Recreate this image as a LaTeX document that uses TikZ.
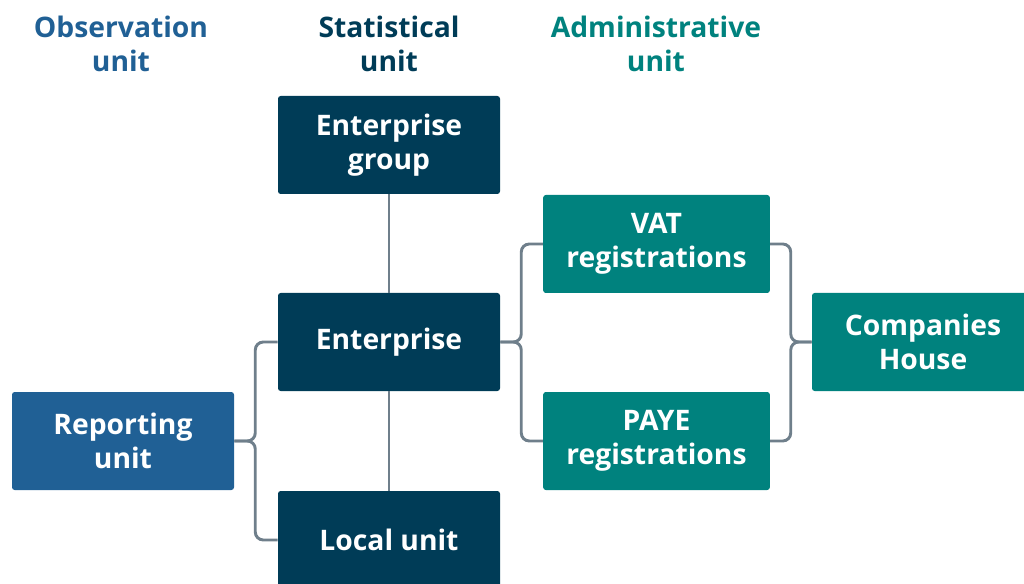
\documentclass[tikz,border=0pt]{standalone}
\usepackage{fontspec}
\setmainfont{Open Sans}
\definecolor{obsblue}{HTML}{206095}
\definecolor{statnavy}{HTML}{003C57}
\definecolor{admteal}{HTML}{00827E}
\definecolor{linkgrey}{HTML}{6F7F8B}
\tikzset{
	unitbox/.style={rounded corners=2pt,minimum width=166.5pt,minimum height=73.5pt,inner sep=0pt,
		align=center,text=white,font=\fontsize{21.2}{25.5}\selectfont\bfseries},
	head/.style={align=center,font=\fontsize{21.2}{25.5}\selectfont\bfseries},
	link/.style={draw=linkgrey,line width=2.2pt,rounded corners=6pt}
}
\begin{document}
\begin{tikzpicture}[x=0.75pt,y=-0.75pt]
	\useasboundingbox (0,0) rectangle (1024,584);
	% column headings
	\node[head,text=obsblue] (hobs) at (121,44) {Observation\\unit};
	\node[head,text=statnavy] (hstat) at (389,44) {Statistical\\unit};
	\node[head,text=admteal] (hadm) at (656,44) {Administrative\\unit};
	% boxes
	\node[unitbox,fill=statnavy] (grp) at (389,145) {Enterprise\\group};
	\node[unitbox,fill=statnavy] (ent) at (389,342) {Enterprise};
	\node[unitbox,fill=statnavy] (loc) at (389,540) {Local unit};
	\node[unitbox,fill=obsblue] (rep) at (123,441) {Reporting\\unit};
	\node[unitbox,fill=admteal,minimum width=170pt] (vat) at (656.5,244) {VAT\\registrations};
	\node[unitbox,fill=admteal,minimum width=170pt] (paye) at (656.5,441) {PAYE\\registrations};
	\node[unitbox,fill=admteal] (ch) at (923,342) {Companies\\House};
	% links
	\draw[link] (grp.south) -- (ent.north);
	\draw[link] (ent.south) -- (loc.north);
	\draw[link] (rep.east) -- ++(21,0) |- (ent.west);
	\draw[link] (rep.east) -- ++(21,0) |- (loc.west);
	\draw[link] (ent.east) -- ++(21,0) |- (vat.west);
	\draw[link] (ent.east) -- ++(21,0) |- (paye.west);
	\draw[link] (ch.west) -- ++(-21,0) |- (vat.east);
	\draw[link] (ch.west) -- ++(-21,0) |- (paye.east);
\end{tikzpicture}
\end{document}
